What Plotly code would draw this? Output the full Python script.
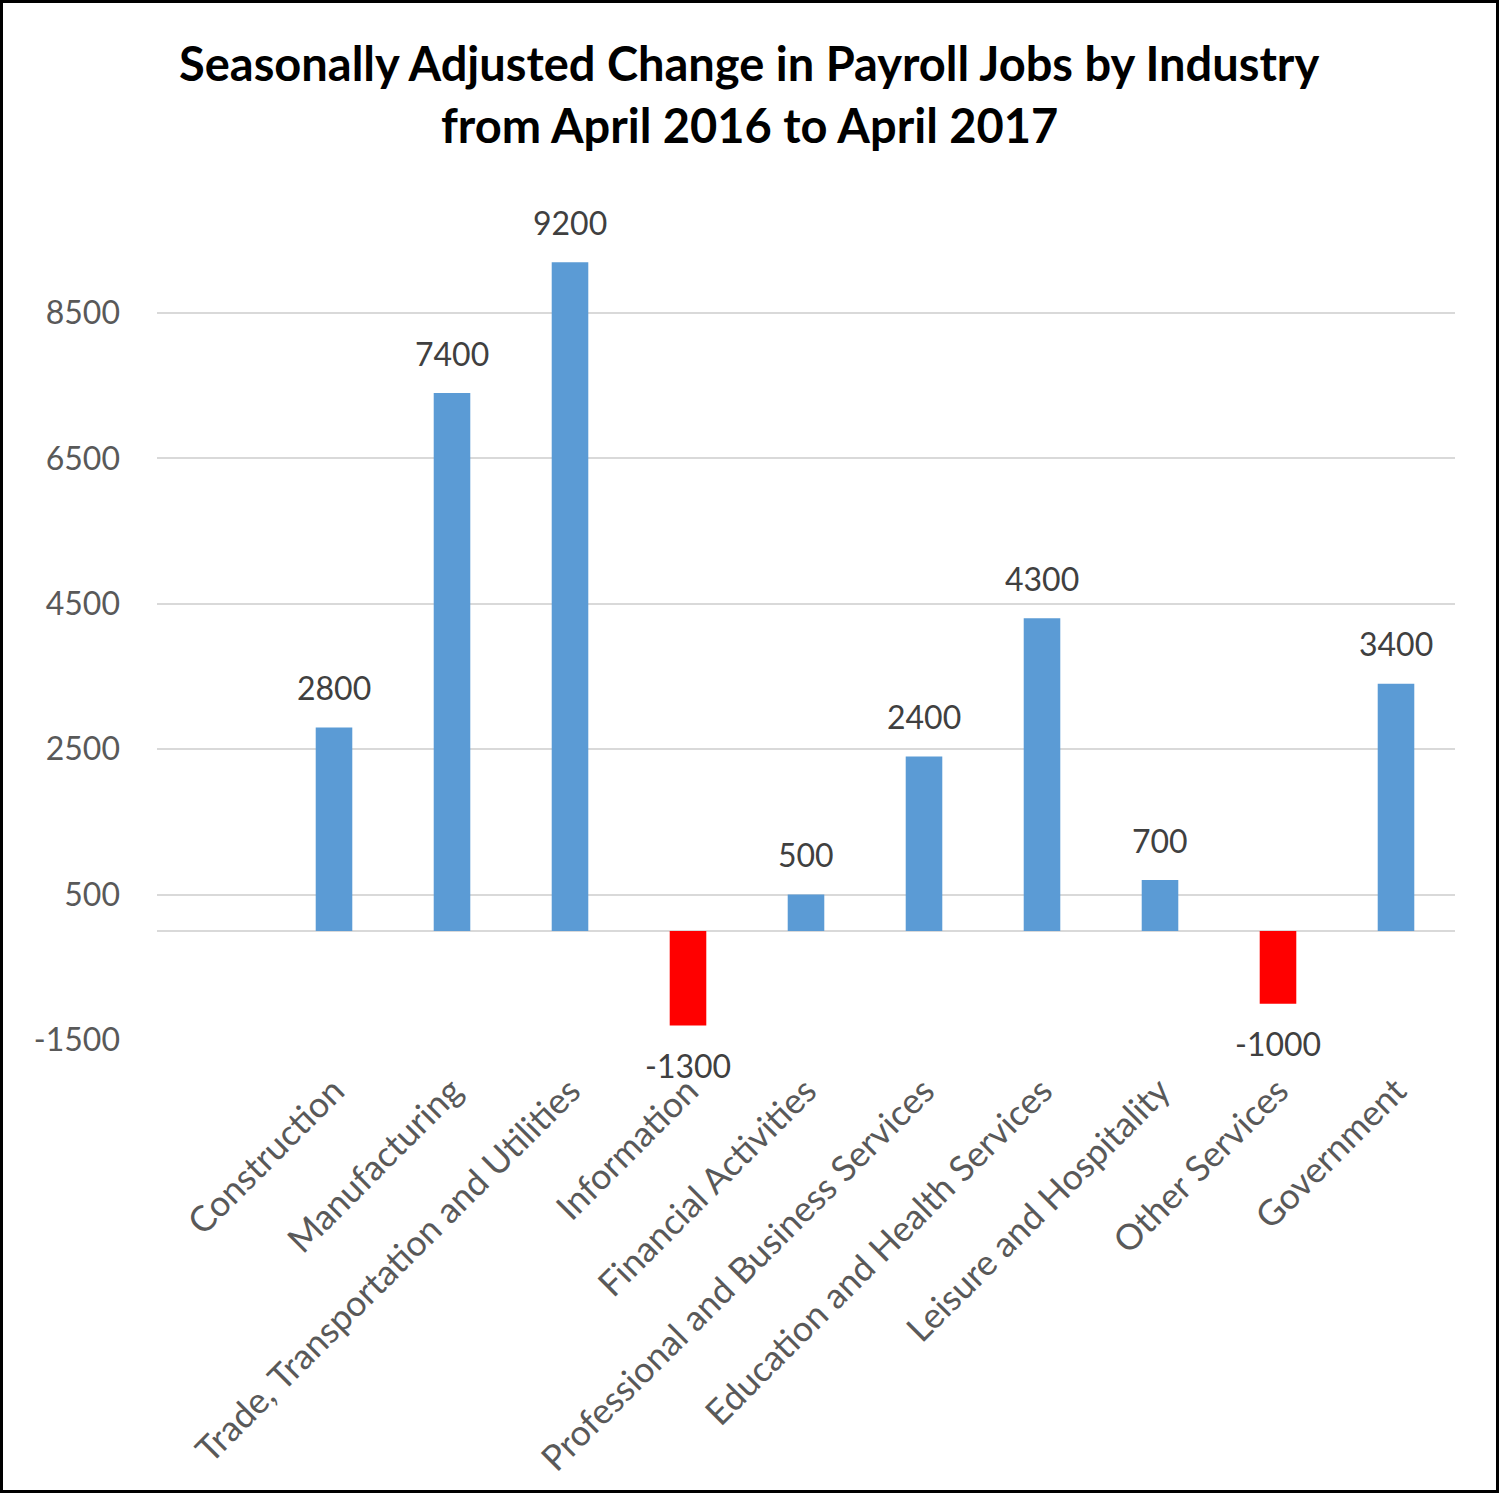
import plotly.graph_objects as go

categories = ["Construction", "Manufacturing", "Trade, Transportation and Utilities",
              "Information", "Financial Activities", "Professional and Business Services",
              "Education and Health Services", "Leisure and Hospitality",
              "Other Services", "Government"]
values = [2800, 7400, 9200, -1300, 500, 2400, 4300, 700, -1000, 3400]
y_ticks = [-1500, 500, 2500, 4500, 6500, 8500]
y_tick_labels = ["-1500", "500", "2500", "4500", "6500", "8500"]
title_lines = ["Seasonally Adjusted Change in Payroll Jobs by Industry",
               "from April 2016 to April 2017"]

BLUE = "#5B9BD5"
RED = "#FF0000"
colors = [RED if v < 0 else BLUE for v in values]

W, H = 1500, 1494
ML, MR, MT, MB = 157, 45, 204, 454
pw = W - ML - MR
ph = H - MT - MB


def px_x(x):
    return (x - ML) / pw


def px_y(y):
    return (H - MB - y) / ph


fig = go.Figure()
fig.add_trace(go.Bar(
    x=categories, y=values, marker=dict(color=colors, line=dict(width=0)),
    width=0.31, hoverinfo="x+y"))

for c, v in zip(categories, values):
    fig.add_annotation(x=c, y=v, text=str(v), showarrow=False,
                       yshift=40 if v >= 0 else -40,
                       font=dict(family="Lato", size=32, color="#404040"))

for line, ypix in zip(title_lines, [63, 125]):
    fig.add_annotation(xref="paper", yref="paper", x=px_x(749), y=px_y(ypix),
                       xanchor="center", yanchor="middle", text="<b>%s</b>" % line,
                       showarrow=False,
                       font=dict(family="Lato", size=47, color="black"))

fig.add_shape(type="rect", xref="paper", yref="paper",
              x0=px_x(1.5), x1=px_x(W - 2.5),
              y0=px_y(H - 2.5), y1=px_y(1.5),
              line=dict(color="black", width=3), fillcolor="rgba(0,0,0,0)", layer="above")

fig.update_layout(
    width=W, height=H,
    margin=dict(l=ML, r=MR, t=MT, b=MB),
    paper_bgcolor="white", plot_bgcolor="white",
    showlegend=False,
    font=dict(family="Lato"),
)
fig.update_xaxes(type="category", categoryorder="array", categoryarray=categories,
                 range=[-1.5, 9.5], tickangle=-45, showgrid=False, showline=False,
                 ticks="", ticklabelstandoff=22,
                 tickfont=dict(family="Lato", size=35.5, color="#595959"))
fig.update_yaxes(range=[-1500, 10000], tickvals=y_ticks, ticktext=y_tick_labels,
                 showgrid=True, gridcolor="#D9D9D9",
                 gridwidth=2, zeroline=True, zerolinecolor="#D9D9D9", zerolinewidth=2,
                 showline=False, ticks="", ticklabelstandoff=36,
                 tickfont=dict(family="Lato", size=32, color="#595959"))

fig.write_html("out.html", config={"displayModeBar": False},
               post_script="document.body.style.margin='0';document.body.style.overflow='hidden';")
